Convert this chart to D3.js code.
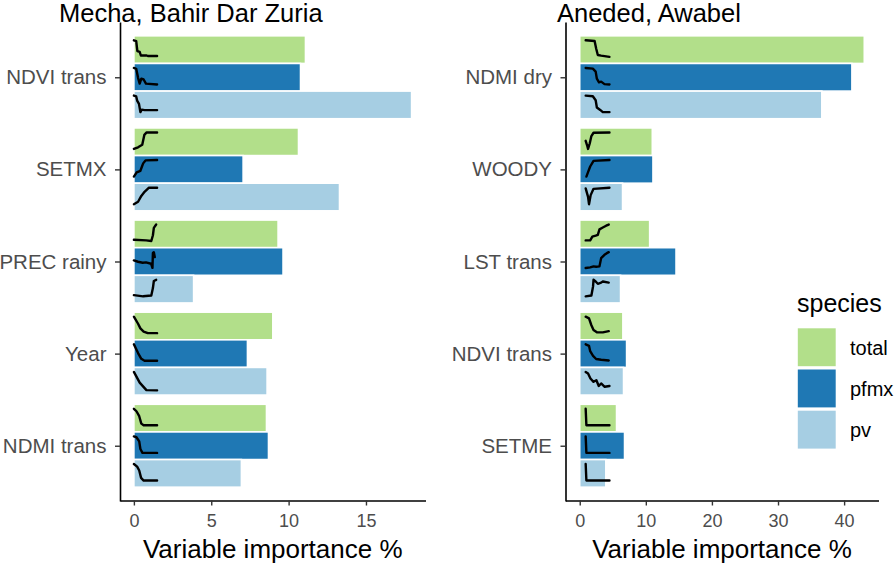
<!DOCTYPE html>
<html><head><meta charset="utf-8">
<script src="https://cdn.jsdelivr.net/npm/d3@7"></script>
<style>body{margin:0;background:#fff} text{font-family:"Liberation Sans",Arial,sans-serif}</style>
</head><body><svg id="c" width="896" height="566"></svg>
<script>
// ---------- data ----------
const species = ["total", "pfmx", "pv"];
const speciesColors = ["#b2df8a", "#1f78b4", "#a6cee3"];

const mechaVars = ["NDVI trans", "SETMX", "PREC rainy", "Year", "NDMI trans"];
const mechaTotal = [11.09, 10.64, 9.32, 8.98, 8.57];
const mechaPfmx  = [10.77, 7.06, 9.64, 7.34, 8.70];
const mechaPv    = [17.95, 13.29, 3.86, 8.61, 6.95];
const mechaTicks = [0, 5, 10, 15];

const anededVars = ["NDMI dry", "WOODY", "LST trans", "NDVI trans", "SETME"];
const anededTotal = [43.05, 10.98, 10.58, 6.53, 5.57];
const anededPfmx  = [41.18, 11.08, 14.57, 7.09, 6.78];
const anededPv    = [36.63, 6.48, 6.18, 6.63, 3.95];
const anededTicks = [0, 10, 20, 30, 40];

// partial dependence curves (normalised x, normalised y), one per variable
const mechaTotalPD = [
  [[0,1],[0.1,0.95],[0.15,0.35],[0.25,0.3],[0.3,0.08],[0.55,0.08],[0.6,0.05],[1,0.05]],
  [[0,0],[0.18,0.1],[0.36,0.25],[0.45,0.85],[0.55,1],[1,1]],
  [[0,0.08],[0.53,0.04],[0.75,0],[0.82,0.35],[0.86,0.8],[0.96,1]],
  [[0,1],[0.18,0.57],[0.28,0.29],[0.42,0.1],[0.6,0],[1,0]],
  [[0,1],[0.11,0.85],[0.23,0.55],[0.32,0.1],[0.42,0],[1,0]]
];
const mechaPfmxPD = [
  [[0,1],[0.1,0.95],[0.18,0.4],[0.25,0.05],[0.32,0.35],[0.42,0.3],[0.52,0.05],[1,0]],
  [[0,0],[0.12,0.25],[0.28,0.35],[0.4,0.8],[0.5,0.98],[1,1]],
  [[0,0.5],[0.18,0.42],[0.38,0.36],[0.52,0.38],[0.74,0.3],[0.8,0.05],[0.82,0.95],[0.86,1],[0.9,0.7]],
  [[0,1],[0.18,0.47],[0.32,0.12],[0.46,0],[1,0]],
  [[0,1],[0.11,0.95],[0.23,0.7],[0.28,0.24],[0.37,0],[1,0]]
];
const mechaPvPD = [
  [[0,1],[0.1,0.95],[0.14,0.7],[0.22,0.5],[0.28,0],[0.34,0.15],[0.46,0.12],[1,0.12]],
  [[0,0],[0.18,0.15],[0.32,0.5],[0.46,0.75],[0.65,1],[1,1]],
  [[0,0.07],[0.4,0],[0.75,0.05],[0.82,0.5],[0.86,0.93],[0.96,1]],
  [[0,1],[0.25,0.35],[0.54,-0.1],[1,-0.12]],
  [[0,1],[0.14,0.84],[0.23,0.61],[0.31,0.16],[0.42,0],[1,0]]
];
const anededTotalPD = [
  [[0,1],[0.375,0.96],[0.44,0.5],[0.51,0.11],[0.65,0.07],[1,0]],
  [[0,0.49],[0.06,0.22],[0.1,0],[0.17,0.33],[0.24,0.78],[0.33,0.98],[1,1]],
  [[0,0.04],[0.19,0.04],[0.28,0.27],[0.42,0.33],[0.51,0.38],[0.58,0.71],[0.72,0.82],[0.86,0.93],[0.97,1]],
  [[0,1],[0.14,0.9],[0.24,0.48],[0.33,0.19],[0.47,0.05],[0.72,0.05],[0.97,0.12]],
  [[0,1],[0.03,0],[1,0]]
];
const anededPfmxPD = [
  [[0,1],[0.3,0.96],[0.42,0.78],[0.47,0.35],[0.56,0.13],[0.65,0.17],[0.79,0.02],[1,0]],
  [[0.03,0],[0.1,0.27],[0.19,0.61],[0.33,0.95],[1,1]],
  [[0,0.04],[0.19,0.08],[0.33,0.14],[0.44,0.12],[0.58,0.14],[0.65,0.64],[0.79,0.84],[0.89,0.94],[0.97,1]],
  [[0,1],[0.14,0.91],[0.19,0.58],[0.31,0.3],[0.44,0.11],[0.65,0.06],[0.97,0.02]],
  [[0,1],[0.03,0],[1,0]]
];
const anededPvPD = [
  [[0,1],[0.3,0.96],[0.42,0.72],[0.47,0.28],[0.61,0.13],[0.72,0],[1,0]],
  [[0,0.96],[0.1,0.44],[0.14,0],[0.21,0.55],[0.33,0.93],[1,1]],
  [[0,0],[0.24,0.05],[0.31,0.6],[0.33,1],[0.42,0.9],[0.51,0.76],[0.65,0.83],[0.72,0.9],[0.97,0.83]],
  [[0,1],[0.1,0.9],[0.2,0.6],[0.33,0.4],[0.45,0.5],[0.55,0.15],[0.65,0.3],[0.8,0.1],[1,0.15]],
  [[0,1],[0.03,0],[1,0]]
];

// ---------- drawing ----------
const svg = d3.select("#c");
const FONT = '"Liberation Sans",Arial,sans-serif';
const panelTop = 22, panelBottom = 501;

function drawPanel(o) {
  const maxV = d3.max(o.values.flat());
  const pad = maxV * 0.05;
  const x = d3.scaleLinear().domain([-pad, maxV + pad]).range(o.xRange);
  const y = d3.scalePoint().domain(o.vars).range([panelTop, panelBottom]).padding(0.6);
  const step = y.step();
  const g = svg.append("g");

  // bars
  species.forEach((sp, si) => {
    o.vars.forEach((v, vi) => {
      const top = y(v) - 0.45 * step + si * 0.3 * step;
      const h = 0.3 * step;
      g.append("rect")
        .attr("x", x(0)).attr("y", top)
        .attr("width", x(o.values[si][vi]) - x(0)).attr("height", h)
        .attr("fill", speciesColors[si]).attr("stroke", "#fff").attr("stroke-width", 1.6);
      const cx = d3.scaleLinear().domain([0, 1]).range([x(o.curveSpan[0]), x(o.curveSpan[1])]);
      const cy = d3.scaleLinear().domain([0, 1]).range([top + 21, top + 4.5]);
      g.append("path")
        .datum(o.curves[si][vi])
        .attr("d", d3.line().x(d => cx(d[0])).y(d => cy(d[1])))
        .attr("fill", "none").attr("stroke", "#000").attr("stroke-width", 2.4)
        .attr("stroke-linejoin", "round").attr("stroke-linecap", "round");
    });
  });

  // x axis
  const xa = g.append("g").attr("transform", `translate(0,${panelBottom - 0.5})`)
    .call(d3.axisBottom(x).tickValues(o.ticks).tickSize(5).tickSizeOuter(0).tickPadding(9));
  xa.select(".domain").attr("stroke", "#000").attr("stroke-width", 1.6);
  xa.selectAll(".tick line").attr("stroke", "#333").attr("stroke-width", 1.4);
  xa.selectAll(".tick text").attr("font-family", FONT).attr("font-size", 18).attr("fill", "#4d4d4d");

  // y axis
  const ya = g.append("g").attr("transform", `translate(${o.xRange[0]},0)`)
    .call(d3.axisLeft(y).tickSize(5).tickSizeOuter(0).tickPadding(8.5));
  ya.select(".domain").attr("stroke", "#000").attr("stroke-width", 1.6);
  ya.selectAll(".tick line").attr("stroke", "#333").attr("stroke-width", 1.4);
  ya.selectAll(".tick text").attr("font-family", FONT).attr("font-size", 20.5).attr("fill", "#4d4d4d");

  // axis title
  g.append("text").attr("x", (o.xRange[0] + o.xRange[1]) / 2).attr("y", 558)
    .attr("text-anchor", "middle").attr("font-family", FONT).attr("font-size", 26)
    .attr("fill", "#000").text("Variable importance %");

  // panel title
  g.append("text").attr("x", o.titleX).attr("y", 22)
    .attr("font-family", FONT).attr("font-size", 25.5).attr("fill", "#000").text(o.title);
}

drawPanel({
  title: "Mecha, Bahir Dar Zuria", titleX: 59,
  vars: mechaVars, values: [mechaTotal, mechaPfmx, mechaPv],
  curves: [mechaTotalPD, mechaPfmxPD, mechaPvPD],
  ticks: mechaTicks, xRange: [120, 425.5], curveSpan: [0, 1.5]
});
drawPanel({
  title: "Aneded, Awabel", titleX: 557,
  vars: anededVars, values: [anededTotal, anededPfmx, anededPv],
  curves: [anededTotalPD, anededPfmxPD, anededPvPD],
  ticks: anededTicks, xRange: [565.5, 878.5], curveSpan: [0.9, 4.5]
});

// legend
const lg = svg.append("g");
lg.append("text").attr("x", 797).attr("y", 311.5).attr("font-family", FONT)
  .attr("font-size", 25).attr("fill", "#000").text("species");
species.forEach((sp, i) => {
  lg.append("rect").attr("x", 797).attr("y", 327.5 + i * 41.2).attr("width", 39.5).attr("height", 39.5)
    .attr("fill", speciesColors[i]).attr("stroke", "#fff").attr("stroke-width", 1.6);
  lg.append("text").attr("x", 850).attr("y", 347.5 + i * 41.2).attr("dy", "0.35em")
    .attr("font-family", FONT).attr("font-size", 20).attr("fill", "#000").text(sp);
});
</script></body></html>
